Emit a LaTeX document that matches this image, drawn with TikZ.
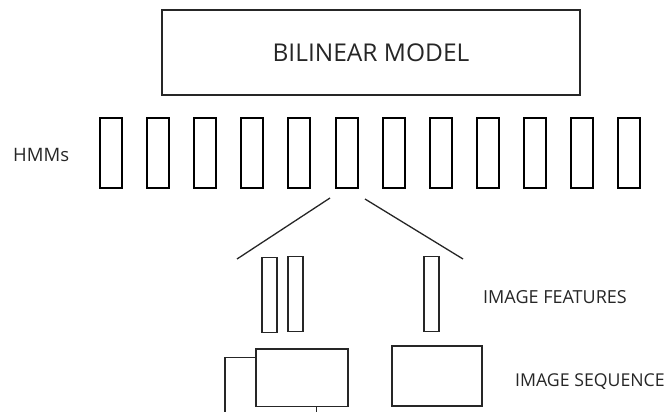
\documentclass[tikz,border=0pt]{standalone}
\usepackage{fontspec}
\setmainfont{Open Sans}
\begin{document}
\begin{tikzpicture}[x=1pt,y=-1pt,
  hmm/.style={draw=black,line width=2pt,minimum width=22pt,minimum height=70pt,inner sep=0pt},
  feat/.style={draw=black!85,line width=1.5pt,minimum width=15pt,minimum height=75pt,inner sep=0pt},
  frame/.style={draw=black!85,line width=1.6pt,inner sep=0pt},
  link/.style={draw=black!85,line width=1.3pt},
  lbl/.style={font=\fontsize{18}{20}\selectfont,text=black!85,inner sep=0pt,anchor=west}]
\useasboundingbox (0,0) rectangle (669,412);
\node[frame,minimum width=418pt,minimum height=85pt,font=\fontsize{24.5}{26}\selectfont,text=black!85] (bm) at (371,52.5) {BILINEAR MODEL};
\foreach \i in {0,...,11}{
  \node[hmm] (h\i) at ({111+47.1*\i},153) {};
}
\node[lbl,font=\fontsize{18.5}{20}\selectfont] (hl) at (13,155) {HMMs};
\coordinate (l1a) at (330,198);
\coordinate (l1b) at (237,259);
\coordinate (l2a) at (365,199);
\coordinate (l2b) at (463,259);
\draw[link] (l1a) -- (l1b);
\draw[link] (l2a) -- (l2b);
\node[feat] (f1) at (269.5,295) {};
\node[feat] (f2) at (295.5,294) {};
\node[feat] (f3) at (431.7,294) {};
\node[lbl] (fl) at (483,297) {IMAGE FEATURES};
\node[frame,minimum width=92pt,minimum height=57.7pt] (s1) at (301.7,377.8) {};
\node[frame,minimum width=90pt,minimum height=60pt] (s2) at (436.7,376) {};
\node[lbl,font=\fontsize{17.7}{20}\selectfont] (sl) at (515,382) {IMAGE SEQUENCE};
\coordinate (c1) at (225,357.7);
\coordinate (c2) at (225,414);
\coordinate (c3) at (316.7,414);
\draw[link,line width=1.5pt] (s1.west |- c1) -- (c1) -- (c2);
\draw[link,line width=1.5pt] (s1.south -| c3) -- (c3);
\end{tikzpicture}
\end{document}
